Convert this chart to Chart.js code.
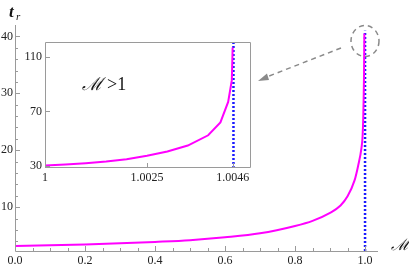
<!DOCTYPE html>
<html lang="en">
<head>
    <meta charset="UTF-8">
    <title>t_r versus M</title>
    <style>
        body {
            margin: 0;
            padding: 0;
            background-color: #fff;
        }

        #wrap {
            position: relative;
            width: 409px;
            height: 269px;
        }

        #wrap canvas {
            position: absolute;
            left: 0;
            top: 0;
        }
    </style>
</head>
<body>
    <div id="wrap">
        <canvas id="mainChart" width="409" height="269"></canvas>
        <canvas id="insetChart" width="260" height="190"></canvas>
    </div>
    <script src="https://cdn.jsdelivr.net/npm/chart.js"></script>
    <script>
        // main curve
        const machValues = [0, 0.1, 0.2, 0.3, 0.4, 0.5, 0.6, 0.7, 0.8, 0.85, 0.9, 0.93, 0.95, 0.97, 0.98, 0.99, 0.993, 0.995, 0.997, 0.998];
        const timeValues = [3.2, 3.3, 3.45, 3.65, 3.9, 4.2, 4.7, 5.4, 6.7, 7.6, 9.0, 10.3, 11.9, 14.7, 17.2, 20.5, 22.5, 26, 33, 40.5];
        const mainLimitX = [1, 1];
        const mainLimitY = [2.3, 41];

        // inset curve (M > 1)
        const insetMach = [1, 1.0005, 1.001, 1.0015, 1.002, 1.0025, 1.003, 1.0035, 1.004, 1.0043, 1.00449, 1.00458, 1.0046];
        const insetTime = [30.3, 31, 32, 33.3, 35, 37.5, 40.6, 45, 52.5, 62, 77, 93, 117];
        const insetLimitX = [1.00462, 1.00462];
        const insetLimitY = [28.5, 121];

        // tick labels
        const mainXTicks = [0, 0.2, 0.4, 0.6, 0.8, 1.0];
        const mainYTicks = [10, 20, 30, 40];
        const mainXMinor = [0.05, 0.1, 0.15, 0.25, 0.3, 0.35, 0.45, 0.5, 0.55, 0.65, 0.7, 0.75, 0.85, 0.9, 0.95];
        const mainYMinor = [4, 6, 8, 12, 14, 16, 18, 22, 24, 26, 28, 32, 34, 36, 38];
        const insetXTicks = [1, 1.0025, 1.0046];
        const insetYTicks = [30, 70, 110];

        const serif = "'Liberation Serif', 'DejaVu Serif', serif";
        const axisGrey = '#9a9a9a';

        function pts(xs, ys) {
            return xs.map((x, i) => ({ x: x, y: ys[i] }));
        }

        // Mathematica-style axes: ticks pointing inwards
        function drawTicks(chart, xMajor, yMajor, xMinor, yMinor, frame) {
            const ctx = chart.ctx;
            const xs = chart.scales.x;
            const ys = chart.scales.y;
            const a = chart.chartArea;
            ctx.save();
            ctx.strokeStyle = axisGrey;
            ctx.lineWidth = 1;
            ctx.beginPath();
            if (frame) {
                ctx.rect(a.left + 0.5, a.top + 0.5, a.right - a.left - 1, a.bottom - a.top - 1);
            } else {
                ctx.moveTo(a.left + 0.5, a.top);
                ctx.lineTo(a.left + 0.5, a.bottom + 0.5);
                ctx.lineTo(a.right, a.bottom + 0.5);
            }
            xMajor.forEach(v => {
                const px = Math.round(xs.getPixelForValue(v)) + 0.5;
                ctx.moveTo(px, a.bottom);
                ctx.lineTo(px, a.bottom - 5);
            });
            xMinor.forEach(v => {
                const px = Math.round(xs.getPixelForValue(v)) + 0.5;
                ctx.moveTo(px, a.bottom);
                ctx.lineTo(px, a.bottom - 3);
            });
            yMajor.forEach(v => {
                const py = Math.round(ys.getPixelForValue(v)) + 0.5;
                ctx.moveTo(a.left, py);
                ctx.lineTo(a.left + 5, py);
            });
            yMinor.forEach(v => {
                const py = Math.round(ys.getPixelForValue(v)) + 0.5;
                ctx.moveTo(a.left, py);
                ctx.lineTo(a.left + 3, py);
            });
            ctx.stroke();
            ctx.restore();
        }

        const mainDecor = {
            id: 'mainDecor',
            afterDraw(chart) {
                drawTicks(chart, mainXTicks, mainYTicks, mainXMinor, mainYMinor, false);
                const ctx = chart.ctx;
                ctx.save();
                // axis titles
                ctx.fillStyle = '#111';
                ctx.textBaseline = 'alphabetic';
                ctx.font = 'italic bold 17px ' + serif;
                ctx.fillText('t', 9, 17);
                ctx.font = 'italic 11px ' + serif;
                ctx.fillText('r', 16, 20);
                ctx.font = 'italic 16px ' + serif;
                ctx.fillText('\u2133', 391, 250);

                // zoom circle and arrow
                ctx.strokeStyle = '#8a8a8a';
                ctx.lineWidth = 1.5;
                ctx.setLineDash([5, 4]);
                ctx.beginPath();
                ctx.ellipse(365, 41, 14, 15.5, 0, 0, Math.PI * 2);
                ctx.stroke();
                ctx.beginPath();
                ctx.moveTo(341, 48);
                ctx.lineTo(264, 78);
                ctx.stroke();
                ctx.setLineDash([]);
                ctx.fillStyle = '#8a8a8a';
                ctx.beginPath();
                ctx.moveTo(258, 81);
                ctx.lineTo(267, 73.5);
                ctx.lineTo(269, 80);
                ctx.closePath();
                ctx.fill();
                ctx.restore();
            }
        };

        const insetDecor = {
            id: 'insetDecor',
            beforeDatasetsDraw(chart) {
                const a = chart.chartArea;
                chart.ctx.save();
                chart.ctx.fillStyle = '#fff';
                chart.ctx.fillRect(a.left, a.top, a.right - a.left, a.bottom - a.top);
                chart.ctx.restore();
            },
            afterDraw(chart) {
                drawTicks(chart, insetXTicks, insetYTicks, [], [], true);
                const ctx = chart.ctx;
                ctx.save();
                ctx.fillStyle = '#111';
                ctx.font = 'italic 18px ' + serif;
                ctx.fillText('\u2133', 82, 90);
                const w = ctx.measureText('\u2133').width;
                ctx.font = '18px ' + serif;
                ctx.fillText('>1', 82 + w + 4, 90);
                ctx.restore();
            }
        };

        function tickFont(size) {
            return { family: serif, size: size };
        }

        new Chart(document.getElementById('mainChart'), {
            type: 'scatter',
            data: {
                datasets: [{
                    data: pts(machValues, timeValues),
                    showLine: true,
                    borderColor: '#ff00ff',
                    borderWidth: 2,
                    pointRadius: 0,
                    cubicInterpolationMode: 'monotone'
                }, {
                    data: pts(mainLimitX, mainLimitY),
                    showLine: true,
                    borderColor: '#1a1aff',
                    borderWidth: 2.5,
                    borderDash: [2, 2],
                    pointRadius: 0
                }]
            },
            options: {
                responsive: false,
                animation: false,
                devicePixelRatio: 1,
                layout: { padding: { top: 25, right: 31, left: 0, bottom: 0 } },
                plugins: { legend: { display: false }, tooltip: { enabled: false } },
                scales: {
                    x: {
                        type: 'linear',
                        min: 0,
                        max: 1.037,
                        grid: { display: false, drawTicks: false },
                        border: { display: false },
                        afterFit(scale) { scale.height = 18; },
                        afterBuildTicks(scale) { scale.ticks = mainXTicks.map(v => ({ value: v })); },
                        ticks: {
                            padding: 3,
                            maxRotation: 0,
                            autoSkip: false,
                            color: '#222',
                            font: tickFont(12),
                            callback: v => v.toFixed(1)
                        }
                    },
                    y: {
                        type: 'linear',
                        min: 2.3,
                        max: 42,
                        grid: { display: false, drawTicks: false },
                        border: { display: false },
                        afterFit(scale) { scale.width = 15; },
                        afterBuildTicks(scale) { scale.ticks = mainYTicks.map(v => ({ value: v })); },
                        ticks: {
                            padding: 2,
                            autoSkip: false,
                            color: '#222',
                            font: tickFont(12)
                        }
                    }
                }
            },
            plugins: [mainDecor]
        });

        new Chart(document.getElementById('insetChart'), {
            type: 'scatter',
            data: {
                datasets: [{
                    data: pts(insetMach, insetTime),
                    showLine: true,
                    borderColor: '#ff00ff',
                    borderWidth: 2,
                    pointRadius: 0
                }, {
                    data: pts(insetLimitX, insetLimitY),
                    showLine: true,
                    borderColor: '#1a1aff',
                    borderWidth: 2.5,
                    borderDash: [2, 2],
                    pointRadius: 0
                }]
            },
            options: {
                responsive: false,
                animation: false,
                devicePixelRatio: 1,
                layout: { padding: { top: 42, right: 9, left: 0, bottom: 0 } },
                plugins: { legend: { display: false }, tooltip: { enabled: false } },
                scales: {
                    x: {
                        type: 'linear',
                        min: 1,
                        max: 1.00505,
                        grid: { display: false, drawTicks: false },
                        border: { display: false },
                        afterFit(scale) { scale.height = 22; },
                        afterBuildTicks(scale) { scale.ticks = insetXTicks.map(v => ({ value: v })); },
                        ticks: {
                            padding: 3,
                            maxRotation: 0,
                            autoSkip: false,
                            color: '#222',
                            font: tickFont(12),
                            callback: v => String(v)
                        }
                    },
                    y: {
                        type: 'linear',
                        min: 28.5,
                        max: 121,
                        grid: { display: false, drawTicks: false },
                        border: { display: false },
                        afterFit(scale) { scale.width = 45; },
                        afterBuildTicks(scale) { scale.ticks = insetYTicks.map(v => ({ value: v })); },
                        ticks: {
                            padding: 3,
                            autoSkip: false,
                            color: '#222',
                            font: tickFont(12)
                        }
                    }
                }
            },
            plugins: [insetDecor]
        });
    </script>
</body>
</html>
